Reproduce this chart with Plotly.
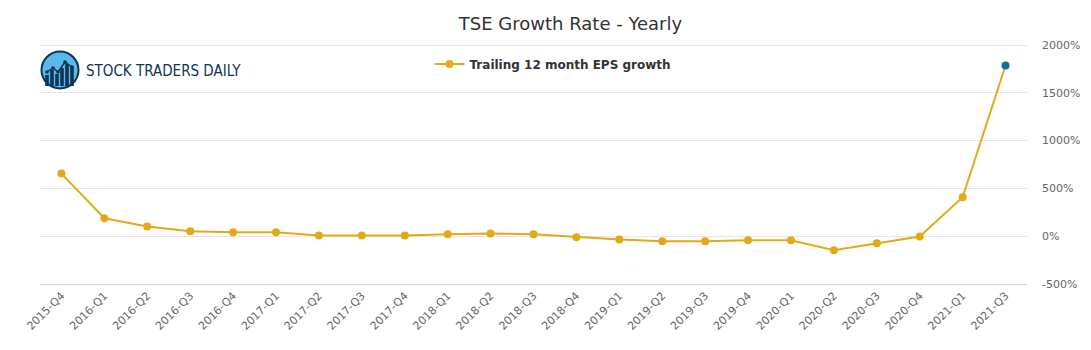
import plotly.graph_objects as go

quarters = ["2015-Q4", "2016-Q1", "2016-Q2", "2016-Q3", "2016-Q4", "2017-Q1", "2017-Q2",
            "2017-Q3", "2017-Q4", "2018-Q1", "2018-Q2", "2018-Q3", "2018-Q4", "2019-Q1",
            "2019-Q2", "2019-Q3", "2019-Q4", "2020-Q1", "2020-Q2", "2020-Q3", "2020-Q4",
            "2021-Q1", "2021-Q3"]
eps_growth = [655, 188, 101, 52, 42, 42, 7, 7, 7, 21, 28, 21, -10, -34, -52, -52, -42, -42,
              -146, -73, -3, 407, 1785]
y_ticks = [-500, 0, 500, 1000, 1500, 2000]
y_tick_labels = ["-500%", "0%", "500%", "1000%", "1500%", "2000%"]

LINE = "#e2aa17"
LAST = "#0b6fa6"

W, H = 1091, 350
L, R, T, B = 40, 64, 42, 66
PW, PH = W - L - R, H - T - B
Y_MIN, Y_MAX = -500, 2031.4


def px(x):
    return (x - L) / PW


def py(y):
    return (H - B - y) / PH


marker_colors = [LINE] * (len(eps_growth) - 1) + [LAST]

fig = go.Figure()
fig.add_trace(go.Scatter(
    x=quarters, y=eps_growth, mode="lines+markers",
    name="Trailing 12 month EPS growth",
    line=dict(color=LINE, width=2),
    marker=dict(color=marker_colors, size=8),
    hovertemplate="%{x}: %{y}%<extra></extra>",
))

shapes = []
# logo icon
cx, cy, r = 60, 70, 18.5
shapes.append(dict(type="circle", xref="paper", yref="paper",
                   x0=px(cx - r), x1=px(cx + r), y0=py(cy + r), y1=py(cy - r),
                   line=dict(color="#0f3554", width=2), fillcolor="#5ab8ea", layer="above"))
for bx, top in [(47, 75), (52, 70), (57, 74), (62, 68), (67, 64), (72, 66)]:
    shapes.append(dict(type="rect", xref="paper", yref="paper",
                       x0=px(bx - 1.8), x1=px(bx + 1.8), y0=py(86), y1=py(top),
                       line=dict(width=0), fillcolor="#0f3554", layer="above"))
pts = [(47, 72), (53, 68), (58, 72), (65, 62), (72, 67)]
path = "M " + " L ".join(f"{px(a)},{py(b)}" for a, b in pts)
shapes.append(dict(type="path", xref="paper", yref="paper", path=path,
                   line=dict(color="#0f3554", width=1.5), layer="above"))
for a, b in pts:
    shapes.append(dict(type="circle", xref="paper", yref="paper",
                       x0=px(a - 1.8), x1=px(a + 1.8), y0=py(b + 1.8), y1=py(b - 1.8),
                       line=dict(width=0), fillcolor="#0f3554", layer="above"))

fig.update_layout(
    width=W, height=H,
    margin=dict(l=L, r=R, t=T, b=B),
    paper_bgcolor="white", plot_bgcolor="white",
    font=dict(family="DejaVu Sans, sans-serif", color="#666666", size=11),
    title=dict(text="TSE Growth Rate - Yearly", x=570.5 / W, xanchor="center",
               y=1 - 24 / H, yanchor="middle",
               font=dict(size=18, color="#333333")),
    showlegend=True,
    legend=dict(orientation="h", x=px(553), xanchor="center", y=py(64), yanchor="middle",
                font=dict(size=12, color="#333333", weight="bold"),
                bgcolor="rgba(0,0,0,0)", itemwidth=30),
    xaxis=dict(type="category", tickangle=-45, showgrid=False, showline=True,
               linecolor="#ccd6eb", linewidth=1, ticks="", tickfont=dict(size=11, color="#666666"),
               range=[-0.5, len(quarters) - 0.5], fixedrange=True),
    yaxis=dict(side="right", range=[Y_MIN, Y_MAX], tickvals=y_ticks, ticktext=y_tick_labels,
               tickmode="array",
               showgrid=True, gridcolor="#e6e6e6", gridwidth=1, zeroline=False,
               showline=False, ticklabelstandoff=14, tickfont=dict(size=11, color="#666666")),
    shapes=shapes,
    annotations=[dict(text="STOCK TRADERS DAILY", xref="paper", yref="paper",
                      x=px(84), y=py(71), xanchor="left", yanchor="middle", showarrow=False,
                      font=dict(family="DejaVu Sans Condensed, Liberation Sans Narrow, sans-serif",
                                size=15, color="#0f3554"))],
)

fig.write_html("out.html")
